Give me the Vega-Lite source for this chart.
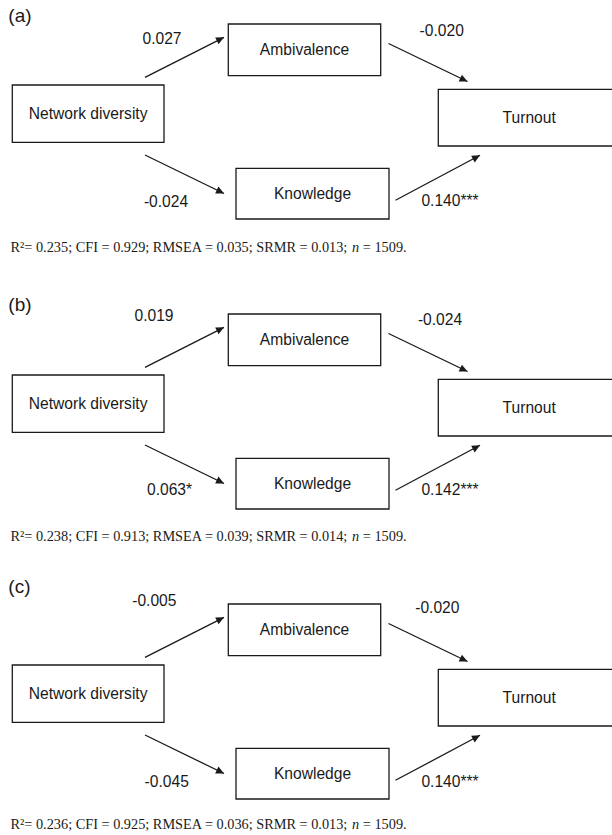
{
  "$schema": "https://vega.github.io/schema/vega-lite/v6.json",
  "padding": 0,
  "background": "white",
  "data": {
    "values": [
      {"kind": "box", "panel": ["a", "b", "c"], "name": "Network diversity", "x": 12.3, "x2": 164, "y": 85, "y2": 142.3},
      {"kind": "box", "panel": ["a", "b", "c"], "name": "Ambivalence", "x": 228.3, "x2": 380.7, "y": 24, "y2": 75.7},
      {"kind": "box", "panel": ["a", "b", "c"], "name": "Knowledge", "x": 236, "x2": 389, "y": 168.3, "y2": 219},
      {"kind": "box", "panel": ["a", "b", "c"], "name": "Turnout", "x": 438.3, "x2": 620, "y": 89.3, "y2": 146},
      {"kind": "arrow", "panel": ["a", "b", "c"], "x": 145, "y": 77.3, "x2": 224, "y2": 37.3},
      {"kind": "arrow", "panel": ["a", "b", "c"], "x": 145, "y": 155, "x2": 224, "y2": 193.5},
      {"kind": "arrow", "panel": ["a", "b", "c"], "x": 388.5, "y": 43.5, "x2": 467.5, "y2": 81.5},
      {"kind": "arrow", "panel": ["a", "b", "c"], "x": 395.5, "y": 200.3, "x2": 480, "y2": 155.3},
      {"kind": "coef", "panel": ["a"], "name": "0.027", "x": 162, "y": 39},
      {"kind": "coef", "panel": ["a"], "name": "-0.020", "x": 441.7, "y": 31},
      {"kind": "coef", "panel": ["a"], "name": "-0.024", "x": 166, "y": 201.7},
      {"kind": "coef", "panel": ["a"], "name": "0.140***", "x": 450, "y": 201},
      {"kind": "coef", "panel": ["b"], "name": "0.019", "x": 154, "y": 26.3},
      {"kind": "coef", "panel": ["b"], "name": "-0.024", "x": 440, "y": 30.3},
      {"kind": "coef", "panel": ["b"], "name": "0.063*", "x": 169.5, "y": 200.3},
      {"kind": "coef", "panel": ["b"], "name": "0.142***", "x": 450, "y": 200.3},
      {"kind": "coef", "panel": ["c"], "name": "-0.005", "x": 154.3, "y": 20.7},
      {"kind": "coef", "panel": ["c"], "name": "-0.020", "x": 437.3, "y": 28.3},
      {"kind": "coef", "panel": ["c"], "name": "-0.045", "x": 166.7, "y": 202.3},
      {"kind": "coef", "panel": ["c"], "name": "0.140***", "x": 450, "y": 202.3},
      {"kind": "tag", "panel": ["a"], "name": "(a)", "x": 8.3, "y": 16},
      {"kind": "tag", "panel": ["b"], "name": "(b)", "x": 8.3, "y": 15.3},
      {"kind": "tag", "panel": ["c"], "name": "(c)", "x": 8.3, "y": 7.3},
      {"kind": "note", "panel": ["a"], "name": "R²= 0.235; CFI = 0.929; RMSEA = 0.035; SRMR = 0.013;", "x": 10.5, "y": 248},
      {"kind": "noteit", "panel": ["a"], "name": "n", "x": 352, "y": 248},
      {"kind": "note", "panel": ["a"], "name": "= 1509.", "x": 362.8, "y": 248},
      {"kind": "note", "panel": ["b"], "name": "R²= 0.238; CFI = 0.913; RMSEA = 0.039; SRMR = 0.014;", "x": 10.5, "y": 247},
      {"kind": "noteit", "panel": ["b"], "name": "n", "x": 352, "y": 247},
      {"kind": "note", "panel": ["b"], "name": "= 1509.", "x": 362.8, "y": 247},
      {"kind": "note", "panel": ["c"], "name": "R²= 0.236; CFI = 0.925; RMSEA = 0.036; SRMR = 0.013;", "x": 10.5, "y": 245},
      {"kind": "noteit", "panel": ["c"], "name": "n", "x": 352, "y": 245},
      {"kind": "note", "panel": ["c"], "name": "= 1509.", "x": 362.8, "y": 245}
    ]
  },
  "transform": [{"flatten": ["panel"]}],
  "facet": {
    "row": {"field": "panel", "type": "nominal", "header": null, "sort": ["a", "b", "c"]}
  },
  "spacing": 0,
  "spec": {
    "width": 612,
    "height": 288,
    "layer": [
      {
        "transform": [{"filter": "datum.kind === 'arrow'"}],
        "mark": {"type": "rule", "stroke": "#1a1a1a", "strokeWidth": 1.3},
        "encoding": {
          "x": {"field": "x", "type": "quantitative", "scale": {"domain": [0, 612], "nice": false, "zero": false}, "axis": null},
          "y": {"field": "y", "type": "quantitative", "scale": {"domain": [0, 288], "reverse": true, "nice": false, "zero": false}, "axis": null},
          "x2": {"field": "x2"},
          "y2": {"field": "y2"}
        }
      },
      {
        "transform": [
          {"filter": "datum.kind === 'arrow'"},
          {"calculate": "atan2(datum.x2 - datum.x, datum.y - datum.y2) * 180 / PI", "as": "ang"}
        ],
        "mark": {"type": "point", "shape": "M0,0L-0.47,1L0.47,1Z", "size": 256, "filled": true, "color": "#1a1a1a", "opacity": 1, "strokeWidth": 0},
        "encoding": {
          "x": {"field": "x2", "type": "quantitative", "scale": {"domain": [0, 612], "nice": false, "zero": false}, "axis": null},
          "y": {"field": "y2", "type": "quantitative", "scale": {"domain": [0, 288], "reverse": true, "nice": false, "zero": false}, "axis": null},
          "angle": {"field": "ang", "type": "quantitative", "scale": null}
        }
      },
      {
        "transform": [{"filter": "datum.kind === 'box'"}],
        "mark": {"type": "rect", "fill": "white", "stroke": "#1a1a1a", "strokeWidth": 1.3, "clip": true},
        "encoding": {
          "x": {"field": "x", "type": "quantitative", "scale": {"domain": [0, 612], "nice": false, "zero": false}, "axis": null},
          "x2": {"field": "x2"},
          "y": {"field": "y", "type": "quantitative", "scale": {"domain": [0, 288], "reverse": true, "nice": false, "zero": false}, "axis": null},
          "y2": {"field": "y2"}
        }
      },
      {
        "transform": [
          {"filter": "datum.kind === 'box'"},
          {"calculate": "(datum.x + datum.x2) / 2", "as": "cx"},
          {"calculate": "(datum.y + datum.y2) / 2", "as": "cy"}
        ],
        "mark": {"type": "text", "font": "Liberation Sans", "fontSize": 15.6, "align": "center", "baseline": "middle", "color": "#1a1a1a"},
        "encoding": {
          "x": {"field": "cx", "type": "quantitative", "scale": {"domain": [0, 612], "nice": false, "zero": false}, "axis": null},
          "y": {"field": "cy", "type": "quantitative", "scale": {"domain": [0, 288], "reverse": true, "nice": false, "zero": false}, "axis": null},
          "text": {"field": "name"}
        }
      },
      {
        "transform": [{"filter": "datum.kind === 'coef'"}],
        "mark": {"type": "text", "font": "Liberation Sans", "fontSize": 15.6, "align": "center", "baseline": "middle", "color": "#1a1a1a"},
        "encoding": {
          "x": {"field": "x", "type": "quantitative", "scale": {"domain": [0, 612], "nice": false, "zero": false}, "axis": null},
          "y": {"field": "y", "type": "quantitative", "scale": {"domain": [0, 288], "reverse": true, "nice": false, "zero": false}, "axis": null},
          "text": {"field": "name"}
        }
      },
      {
        "transform": [{"filter": "datum.kind === 'tag'"}],
        "mark": {"type": "text", "font": "Liberation Sans", "fontSize": 19, "align": "left", "baseline": "middle", "color": "#1a1a1a"},
        "encoding": {
          "x": {"field": "x", "type": "quantitative", "scale": {"domain": [0, 612], "nice": false, "zero": false}, "axis": null},
          "y": {"field": "y", "type": "quantitative", "scale": {"domain": [0, 288], "reverse": true, "nice": false, "zero": false}, "axis": null},
          "text": {"field": "name"}
        }
      },
      {
        "transform": [{"filter": "datum.kind === 'note'"}],
        "mark": {"type": "text", "font": "Liberation Serif", "fontSize": 14.3, "align": "left", "baseline": "middle", "color": "#1a1a1a"},
        "encoding": {
          "x": {"field": "x", "type": "quantitative", "scale": {"domain": [0, 612], "nice": false, "zero": false}, "axis": null},
          "y": {"field": "y", "type": "quantitative", "scale": {"domain": [0, 288], "reverse": true, "nice": false, "zero": false}, "axis": null},
          "text": {"field": "name"}
        }
      },
      {
        "transform": [{"filter": "datum.kind === 'noteit'"}],
        "mark": {"type": "text", "font": "Liberation Serif", "fontSize": 14.3, "fontStyle": "italic", "align": "left", "baseline": "middle", "color": "#1a1a1a"},
        "encoding": {
          "x": {"field": "x", "type": "quantitative", "scale": {"domain": [0, 612], "nice": false, "zero": false}, "axis": null},
          "y": {"field": "y", "type": "quantitative", "scale": {"domain": [0, 288], "reverse": true, "nice": false, "zero": false}, "axis": null},
          "text": {"field": "name"}
        }
      }
    ]
  },
  "config": {"view": {"stroke": null}}
}
